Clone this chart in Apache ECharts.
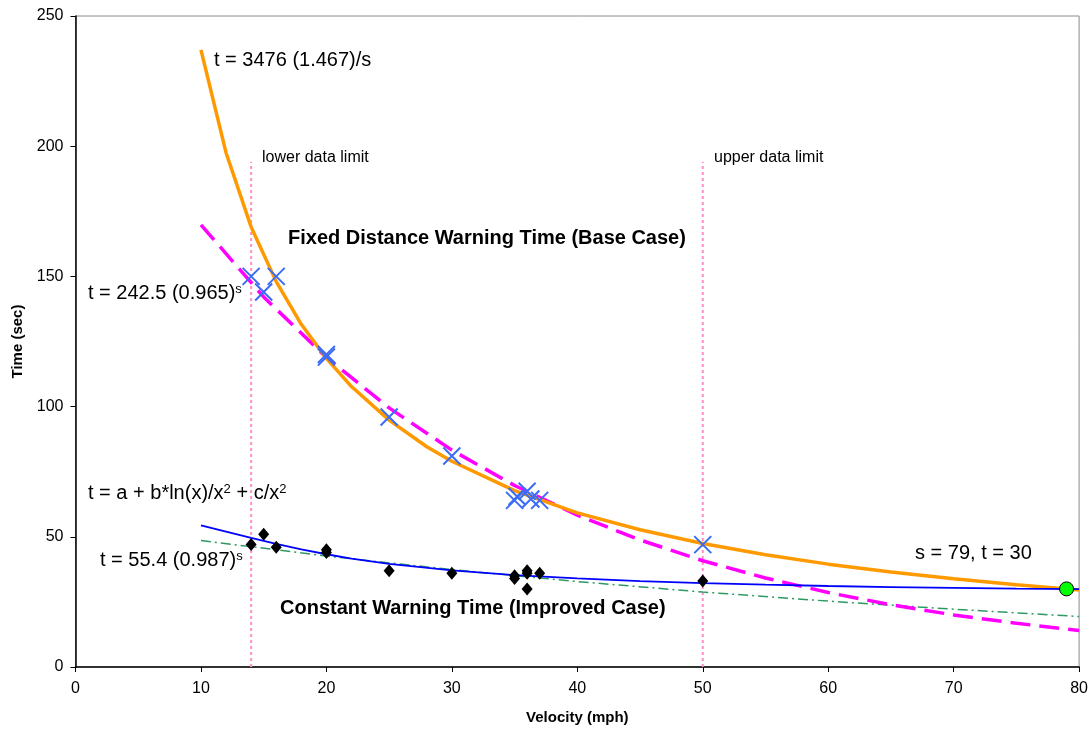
<!DOCTYPE html>
<html>
<head>
<meta charset="utf-8">
<script src="https://cdn.jsdelivr.net/npm/echarts@6/dist/echarts.min.js"></script>
<style>html,body{margin:0;padding:0;background:#fff;}#c{width:1091px;height:730px;}</style>
</head>
<body>
<div id="c"></div>
<script>
// x ticks / y ticks
const xTicks = [0, 10, 20, 30, 40, 50, 60, 70, 80];
const yTicks = [0, 50, 100, 150, 200, 250];

// Fixed distance warning time curve t = 3476 (1.467)/s
const orangeX = [10, 12, 14, 16, 18, 20, 22, 25, 28, 30, 35, 40, 45, 50, 55, 60, 65, 70, 75, 79, 80];
const orangeY = [237, 197.5, 169, 148, 131.6, 118.5, 107.7, 94.8, 84.6, 79, 67.7, 59.2, 52.7, 47.4, 43.1, 39.5, 36.5, 33.9, 31.6, 30, 29.6];

// t = 242.5 (0.965)^s
const magentaX = [10, 15, 20, 25, 30, 35, 40, 45, 50, 55, 60, 65, 70, 75, 80];
const magentaY = [169.8, 142.1, 118.9, 99.5, 83.3, 69.7, 58.3, 48.8, 40.8, 34.2, 28.6, 23.9, 20.0, 16.8, 14.0];

// t = 55.4 (0.987)^s
const greenX = [10, 20, 30, 40, 50, 60, 70, 80];
const greenY = [48.6, 42.6, 37.4, 32.8, 28.8, 25.3, 22.2, 19.4];

// t = a + b*ln(x)/x^2 + c/x^2
const blueX = [10, 12, 14, 16, 18, 20, 22, 25, 30, 35, 40, 45, 50, 55, 60, 65, 70, 75, 80];
const blueY = [54.4, 52, 49.6, 47.3, 45.2, 43.3, 41.6, 39.6, 37.1, 35.3, 34.0, 33.0, 32.2, 31.6, 31.1, 30.7, 30.4, 30.1, 29.9];

// Fixed distance data points (X markers)
const fixedX = [14, 15, 16, 20, 20, 25, 30, 35, 35.2, 36, 36.3, 37, 50];
const fixedY = [150, 144, 150, 120, 119, 96, 81, 64, 65.5, 67.5, 64.5, 64, 47];

// Constant warning time data points (diamonds)
const constX = [14, 15, 16, 20, 20, 25, 30, 35, 35, 36, 36, 36, 37, 50];
const constY = [47, 51, 46, 45, 44, 37, 36, 35, 34, 37, 36, 30, 36, 33];

// special point
const endPoint = [79, 30];

// data limits
const limitX = [14, 50];
const limitTop = 194;

const zip = (xs, ys) => xs.map((x, i) => [x, ys[i]]);

const chart = echarts.init(document.getElementById('c'), null, {renderer: 'canvas'});
const FONT = 'Liberation Sans, Arial, sans-serif';

const limitSeries = limitX.map(x => ({
  type: 'line', data: [[x, 0], [x, limitTop]], symbol: 'none', silent: true, z: 1,
  lineStyle: {color: '#ff8fc8', width: 2, type: [3, 3]}
}));

const supRich = {
  n: {font: '20px ' + FONT, fill: '#000', verticalAlign: 'bottom'},
  s: {font: '13px ' + FONT, fill: '#000', verticalAlign: 'top'}
};

const option = {
  animation: false,
  backgroundColor: '#ffffff',
  grid: {left: 75.5, right: 11, top: 16, bottom: 62, show: true, borderColor: '#8a8a8a', borderWidth: 1},
  xAxis: {
    type: 'value', min: xTicks[0], max: xTicks[xTicks.length - 1], interval: 10,
    name: 'Velocity (mph)', nameLocation: 'middle', nameGap: 43,
    nameTextStyle: {fontFamily: FONT, fontWeight: 'bold', fontSize: 15, color: '#000'},
    axisLine: {show: true, onZero: false, lineStyle: {color: '#000', width: 1.5}},
    axisTick: {show: true, length: 5, lineStyle: {color: '#000'}},
    axisLabel: {fontFamily: FONT, fontSize: 16, color: '#000', margin: 14},
    splitLine: {show: false}
  },
  yAxis: {
    type: 'value', min: yTicks[0], max: yTicks[yTicks.length - 1], interval: 50,
    name: 'Time (sec)', nameLocation: 'middle', nameGap: 50, nameRotate: 90,
    nameTextStyle: {fontFamily: FONT, fontWeight: 'bold', fontSize: 15, color: '#000'},
    axisLine: {show: true, onZero: false, lineStyle: {color: '#000', width: 1.5}},
    axisTick: {show: true, length: 5, lineStyle: {color: '#000'}},
    axisLabel: {fontFamily: FONT, fontSize: 16, color: '#000', margin: 12},
    splitLine: {show: false}
  },
  series: [
    ...limitSeries,
    {type: 'line', data: zip(greenX, greenY), symbol: 'none', z: 2,
     lineStyle: {color: '#2e9a62', width: 1.5, type: [10, 4, 2, 4]}},
    {type: 'line', data: zip(magentaX, magentaY), symbol: 'none', z: 3,
     lineStyle: {color: '#ff00ff', width: 3.5, type: [20, 9]}},
    {type: 'line', data: zip(orangeX, orangeY), symbol: 'none', z: 4,
     lineStyle: {color: '#ff9900', width: 3.5}},
    {type: 'line', data: zip(blueX, blueY), symbol: 'none', z: 5,
     lineStyle: {color: '#0000ff', width: 1.8}},
    {type: 'scatter', data: zip(fixedX, fixedY), z: 6,
     symbol: 'path://M0,0L10,10M10,0L0,10', symbolSize: 17,
     itemStyle: {color: 'rgba(0,0,0,0)', borderColor: '#3a6cf5', borderWidth: 2, opacity: 1}},
    {type: 'scatter', data: zip(constX, constY), z: 7,
     symbol: 'diamond', symbolSize: [11, 13], itemStyle: {color: '#000', opacity: 1}},
    {type: 'scatter', data: [endPoint], z: 8,
     symbol: 'circle', symbolSize: 14, itemStyle: {color: '#00ff00', borderColor: '#000', borderWidth: 1, opacity: 1}}
  ],
  graphic: [
    {type: 'text', left: 214, top: 50, style: {text: 't = 3476 (1.467)/s', font: '20px ' + FONT, fill: '#000'}},
    {type: 'text', left: 288, top: 228, style: {text: 'Fixed Distance Warning Time (Base Case)', font: 'bold 20px ' + FONT, fill: '#000'}},
    {type: 'text', left: 88, top: 283, style: {text: '{n|t = 242.5 (0.965)}{s|s}', rich: supRich}},
    {type: 'text', left: 88, top: 483, style: {text: '{n|t = a + b*ln(x)/x}{s|2}{n| + c/x}{s|2}', rich: supRich}},
    {type: 'text', left: 100, top: 550, style: {text: '{n|t = 55.4 (0.987)}{s|s}', rich: supRich}},
    {type: 'text', left: 280, top: 598, style: {text: 'Constant Warning Time (Improved Case)', font: 'bold 20px ' + FONT, fill: '#000'}},
    {type: 'text', left: 915, top: 543, style: {text: 's = 79, t = 30', font: '20px ' + FONT, fill: '#000'}},
    {type: 'text', left: 262, top: 150, style: {text: 'lower data limit', font: '16px ' + FONT, fill: '#000'}},
    {type: 'text', left: 714, top: 150, style: {text: 'upper data limit', font: '16px ' + FONT, fill: '#000'}}
  ]
};
chart.setOption(option);
</script>
</body>
</html>
